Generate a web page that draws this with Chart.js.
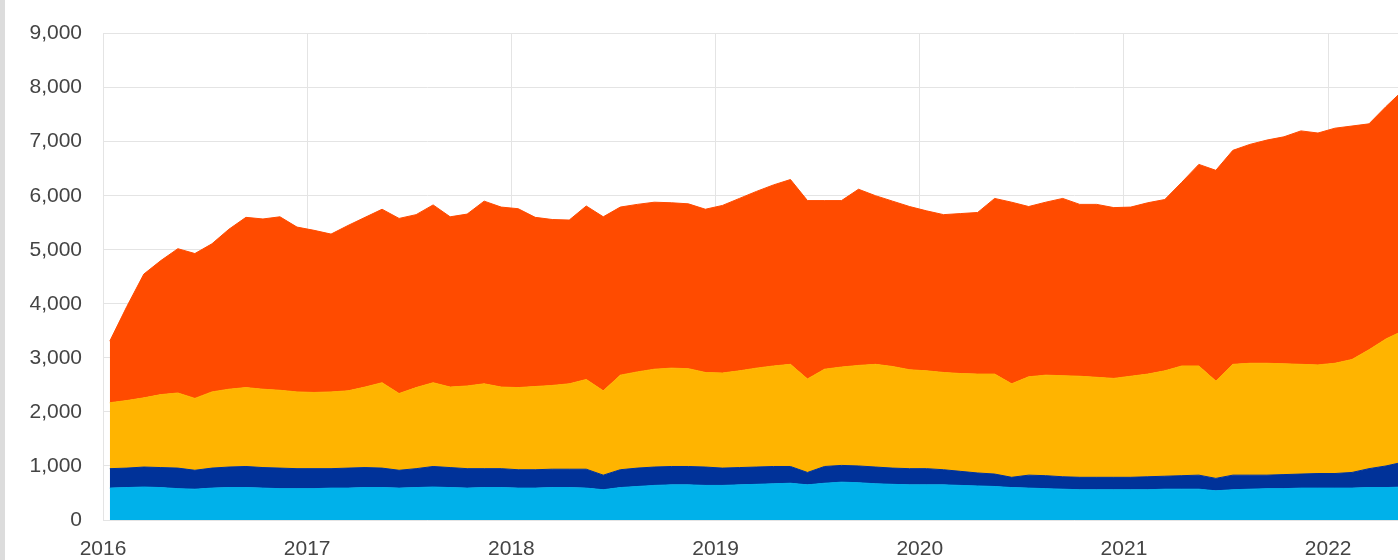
<!DOCTYPE html>
<html>
<head>
<meta charset="utf-8">
<script src="https://cdn.jsdelivr.net/npm/chart.js@4.4.1/dist/chart.umd.min.js"></script>
<style>
html, body { margin: 0; padding: 0; background: #fff; }
#grafico { display: block; }
</style>
</head>
<body>
<canvas id="grafico" width="1398" height="560"></canvas>
<script>
// eje x: un punto por mes desde enero 2016
const anios = [2016, 2017, 2018, 2019, 2020, 2021, 2022];
const marcasEjeY = [0, 1000, 2000, 3000, 4000, 5000, 6000, 7000, 8000, 9000];

const serieCeleste = [590, 600, 610, 600, 580, 570, 590, 600, 600, 590, 580, 580,
    580, 590, 590, 600, 600, 590, 600, 610, 600, 590, 600, 600,
    590, 590, 600, 600, 590, 560, 600, 620, 640, 650, 650, 640,
    640, 650, 660, 670, 680, 650, 680, 700, 690, 670, 660, 650,
    650, 650, 640, 630, 620, 600, 590, 580, 570, 560, 560, 560,
    560, 560, 570, 570, 570, 540, 560, 570, 580, 580, 590, 590,
    590, 590, 600, 600, 610];

const serieAzulOscuro = [360, 360, 370, 370, 380, 350, 370, 380, 390, 380, 380, 370,
    370, 360, 370, 370, 360, 330, 350, 380, 370, 360, 350, 350,
    340, 340, 340, 340, 350, 270, 330, 340, 340, 340, 340, 340,
    320, 320, 320, 320, 310, 230, 310, 310, 310, 310, 300, 300,
    300, 280, 260, 240, 230, 190, 240, 240, 230, 230, 230, 230,
    230, 240, 240, 250, 260, 230, 270, 260, 250, 260, 260, 270,
    270, 290, 350, 400, 460];

const serieAmarilla = [1220, 1250, 1280, 1350, 1390, 1330, 1410, 1440, 1460, 1450, 1440, 1420,
    1410, 1420, 1430, 1490, 1580, 1420, 1500, 1550, 1490, 1530, 1570, 1510,
    1520, 1540, 1550, 1580, 1660, 1560, 1750, 1780, 1810, 1820, 1810, 1750,
    1760, 1790, 1830, 1860, 1890, 1730, 1800, 1820, 1860, 1900, 1880, 1830,
    1810, 1800, 1810, 1830, 1850, 1730, 1820, 1860, 1870, 1870, 1850, 1830,
    1870, 1900, 1950, 2030, 2020, 1800, 2050, 2070, 2070, 2050, 2030, 2010,
    2040, 2090, 2200, 2350, 2430];

const serieNaranja = [1140, 1740, 2290, 2480, 2670, 2680, 2740, 2960, 3150, 3150, 3210, 3050,
    3000, 2920, 3060, 3140, 3210, 3240, 3200, 3290, 3150, 3180, 3380, 3330,
    3310, 3130, 3070, 3030, 3210, 3220, 3110, 3100, 3090, 3060, 3050, 3020,
    3100, 3190, 3270, 3350, 3420, 3300, 3120, 3080, 3260, 3120, 3060, 3020,
    2960, 2920, 2960, 2990, 3250, 3360, 3150, 3200, 3280, 3180, 3200, 3160,
    3130, 3170, 3170, 3400, 3730, 3900, 3960, 4050, 4130, 4200, 4320, 4290,
    4350, 4320, 4180, 4300, 4450];

const colores = ['#00b1ea', '#003299', '#ffb400', '#ff4b00'];
const fuente = { family: "'Liberation Sans', Arial, sans-serif", size: 21 };
const colorGrilla = '#e4e4e4';

function aPuntos(valores) {
    // cada mes se coloca un poco despues del inicio del mes
    return valores.map((v, i) => ({ x: anios[0] + (i + 0.4) / 12, y: v }));
}

function crearSerie(valores, color, relleno) {
    return {
        data: aPuntos(valores),
        backgroundColor: color,
        borderColor: color,
        borderWidth: 1,
        pointRadius: 0,
        tension: 0,
        fill: relleno
    };
}

const bordeGris = {
    id: 'bordeGris',
    beforeDraw(chart) {
        const c = chart.ctx;
        c.save();
        c.fillStyle = '#fff';
        c.fillRect(0, 0, chart.width, chart.height);
        c.fillStyle = '#dcdcdc';
        c.fillRect(0, 0, 5, chart.height);
        c.restore();
    }
};

function crearGrafico(idChart) {
    let elementoDOM = document.getElementById(idChart).getContext('2d');
    new Chart(elementoDOM, {
        type: 'line',
        data: {
            datasets: [
                crearSerie(serieCeleste, colores[0], 'origin'),
                crearSerie(serieAzulOscuro, colores[1], '-1'),
                crearSerie(serieAmarilla, colores[2], '-1'),
                crearSerie(serieNaranja, colores[3], '-1')
            ]
        },
        options: {
            responsive: false,
            animation: false,
            layout: { padding: { top: 24, right: 0, bottom: 0, left: 0 } },
            plugins: {
                legend: { display: false },
                tooltip: { enabled: false }
            },
            scales: {
                x: {
                    type: 'linear',
                    min: 2016,
                    max: 2022.342,
                    afterBuildTicks: eje => { eje.ticks = anios.map(a => ({ value: a })); },
                    afterFit: eje => { eje.height = 40; },
                    grid: { color: colorGrilla, drawTicks: false },
                    border: { display: false },
                    ticks: {
                        padding: 17,
                        color: '#444',
                        font: fuente,
                        maxRotation: 0,
                        autoSkip: false,
                        callback: v => String(v)
                    }
                },
                y: {
                    stacked: true,
                    min: 0,
                    max: 9000,
                    afterBuildTicks: eje => { eje.ticks = marcasEjeY.map(m => ({ value: m })); },
                    afterFit: eje => { eje.width = 103; },
                    grid: { color: colorGrilla, drawTicks: false },
                    border: { display: true, color: colorGrilla },
                    ticks: {
                        padding: 21,
                        color: '#444',
                        font: fuente,
                        callback: v => v.toLocaleString('en-US')
                    }
                }
            }
        },
        plugins: [bordeGris]
    });
}

crearGrafico('grafico');
</script>
</body>
</html>
